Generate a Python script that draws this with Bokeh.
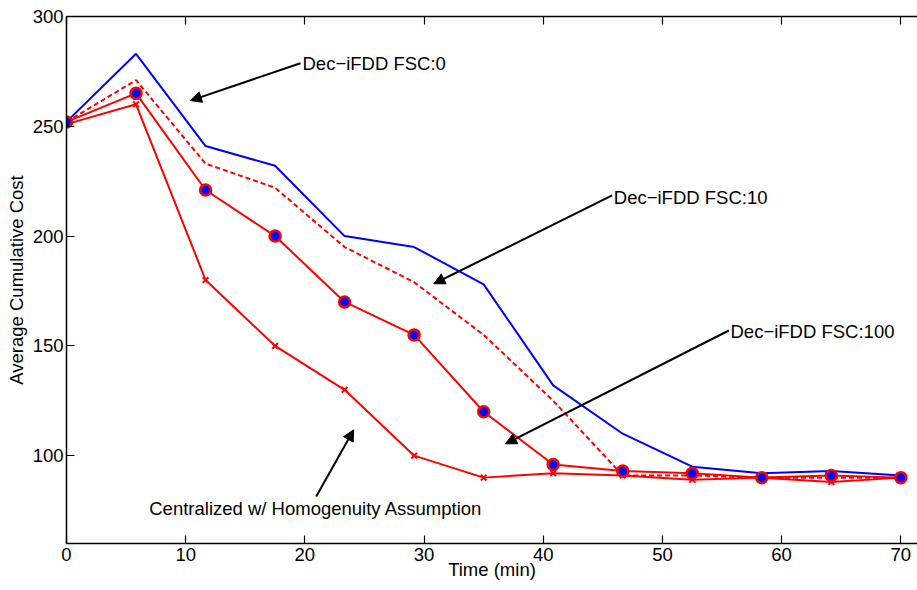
from bokeh.plotting import figure
from bokeh.models import Arrow, NormalHead, Label, LinearAxis, FixedTicker, Range1d, ColumnDataSource
from bokeh.embed import file_html
from bokeh.resources import INLINE

# ---- data ----
time_min = [i * 70 / 12 for i in range(13)]
fsc0 = [252, 283, 241, 232, 200, 195, 178, 132, 110, 95, 92, 93, 91]
fsc10 = [252, 271, 233, 222, 195, 179, 155, 125, 91, 91, 90, 90, 90]
fsc100 = [252, 265, 221, 200, 170, 155, 120, 96, 93, 92, 90, 91, 90]
central = [251, 260, 180, 150, 130, 100, 90, 92, 91, 89, 90, 88, 90]

x_ticks = [0, 10, 20, 30, 40, 50, 60, 70]
y_ticks = [100, 150, 200, 250, 300]

# annotations: text position and arrow tail/head (data units)
ann_texts = ["Dec\u2212iFDD FSC:0", "Dec\u2212iFDD FSC:10", "Dec\u2212iFDD FSC:100"]
ann_text_x = [19.80, 45.92, 55.71]
ann_text_y = [278.6, 217.7, 156.7]
ann_tail_x = [19.63, 45.78, 55.57]
ann_tail_y = [278.7, 218.5, 157.0]
ann_head_x = [10.40, 30.82, 36.83]
ann_head_y = [261.7, 178.3, 105.4]

central_text = "Centralized w/ Homogenuity Assumption"
central_text_xy = (20.92, 75.8)
central_arrow = (20.95, 81.4, 24.10, 111.8)

FONT = "Liberation Sans"
FS = "18.5px"

p = figure(width=917, height=590, x_range=Range1d(0, 71.4), y_range=Range1d(60, 300),
           output_backend="svg", toolbar_location=None,
           min_border_left=66, min_border_right=0, min_border_top=16, min_border_bottom=47)
p.grid.visible = False
p.outline_line_color = None
p.background_fill_color = "white"
p.border_fill_color = "white"

for ax in (p.xaxis[0], p.yaxis[0]):
    ax.major_tick_in = 8
    ax.major_tick_out = 0
    ax.minor_tick_in = 0
    ax.minor_tick_out = 0
    ax.axis_line_width = 1.5
    ax.major_tick_line_width = 1.2
    ax.axis_line_color = "black"
    ax.major_label_text_font = FONT
    ax.major_label_text_font_size = FS
    ax.major_label_text_color = "black"
    ax.axis_label_text_font = FONT
    ax.axis_label_text_font_size = FS
    ax.axis_label_text_font_style = "normal"
    ax.axis_label_text_color = "black"
p.xaxis[0].ticker = FixedTicker(ticks=x_ticks)
p.yaxis[0].ticker = FixedTicker(ticks=y_ticks)
p.xaxis[0].major_label_standoff = 4
p.yaxis[0].major_label_standoff = 3
p.xaxis[0].axis_label = "Time (min)"
p.xaxis[0].axis_label_standoff = -5
p.yaxis[0].axis_label = "Average Cumulative Cost"
p.yaxis[0].axis_label_standoff = 3

top = LinearAxis(ticker=FixedTicker(ticks=[], minor_ticks=x_ticks),
                 major_tick_in=0, major_tick_out=0,
                 minor_tick_in=8, minor_tick_out=0, axis_line_width=1.5,
                 minor_tick_line_width=1.2, minor_tick_line_color="black",
                 major_label_standoff=0)
p.add_layout(top, "above")

src = ColumnDataSource(dict(t=time_min, a=fsc0, b=fsc10, c=fsc100, d=central))

p.line("t", "a", source=src, line_color="#0000ff", line_width=2)
p.line("t", "b", source=src, line_color="#ff0000", line_width=2, line_dash="5 3")
p.line("t", "d", source=src, line_color="#ff0000", line_width=2)
p.scatter("t", "d", source=src, marker="x", size=8, line_color="#ff0000", line_width=2)
p.line("t", "c", source=src, line_color="#ff0000", line_width=2)
p.scatter("t", "c", source=src, marker="circle", size=11, fill_color="#0000ff",
          line_color="#ff0000", line_width=2.5)

for i in range(3):
    p.add_layout(Arrow(end=NormalHead(size=11, fill_color="black", line_color="black"),
                       x_start=ann_tail_x[i], y_start=ann_tail_y[i],
                       x_end=ann_head_x[i], y_end=ann_head_y[i],
                       line_color="black", line_width=2))
    p.add_layout(Label(x=ann_text_x[i], y=ann_text_y[i], text=ann_texts[i],
                       text_font=FONT, text_font_size=FS, text_align="left",
                       text_baseline="middle", text_color="black"))

p.add_layout(Arrow(end=NormalHead(size=11, fill_color="black", line_color="black"),
                   x_start=central_arrow[0], y_start=central_arrow[1],
                   x_end=central_arrow[2], y_end=central_arrow[3],
                   line_color="black", line_width=2))
p.add_layout(Label(x=central_text_xy[0], y=central_text_xy[1], text=central_text,
                   text_font=FONT, text_font_size=FS, text_align="center",
                   text_baseline="middle", text_color="black"))

open("out.html", "w").write(file_html(p, INLINE))
